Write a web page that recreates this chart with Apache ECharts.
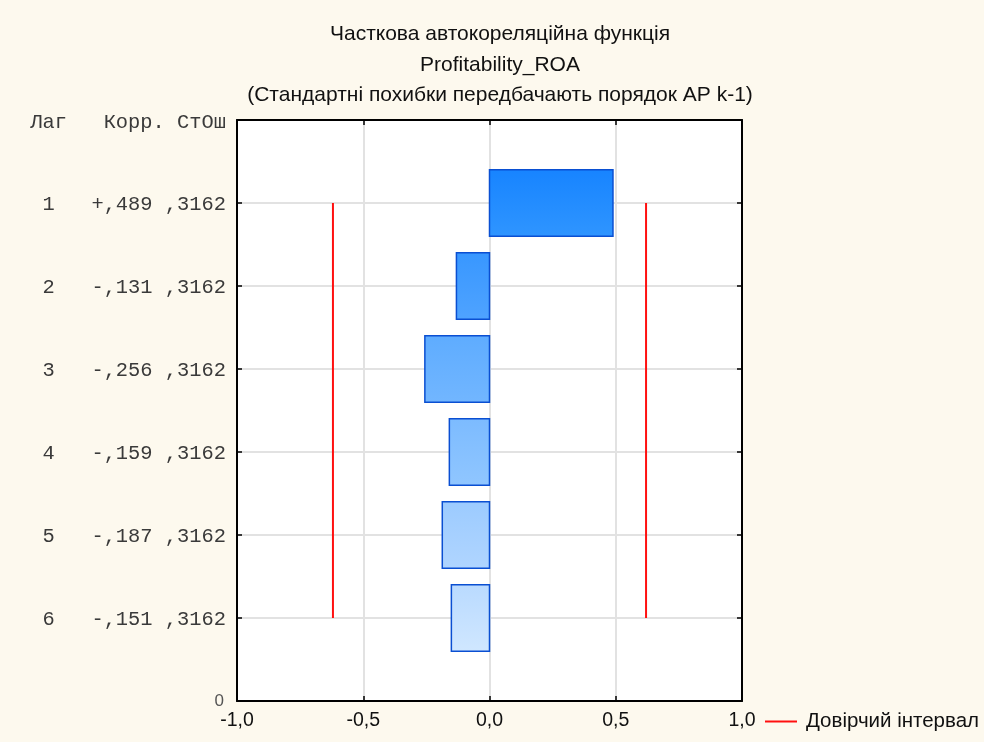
<!DOCTYPE html>
<html>
<head>
<meta charset="utf-8">
<script src="https://cdn.jsdelivr.net/npm/echarts@6/dist/echarts.min.js"></script>
<style>
  html, body { margin: 0; padding: 0; background: #fdf9ee; }
  #chart { width: 984px; height: 742px; }
</style>
</head>
<body>
<div id="chart"></div>
<script>
// Partial autocorrelation values per lag
const lags = [1, 2, 3, 4, 5, 6];
const corr = [0.489, -0.131, -0.256, -0.159, -0.187, -0.151];
const stdErr = [0.3162, 0.3162, 0.3162, 0.3162, 0.3162, 0.3162];
// Confidence band limits
const confLimits = [-0.62, 0.62];
const xTicks = [-1, -0.5, 0, 0.5, 1];

const titleLines = [
  'Часткова автокореляційна функція',
  'Profitability_ROA',
  '(Стандартні похибки передбачають порядок АР k-1)'
];
const legendName = 'Довірчий інтервал';

// Bar fill gradients, darker for early lags
const barTop = ['#1784ff', '#3897ff', '#5eacff', '#7cbbff', '#9ccbff', '#b9daff'];
const barBottom = ['#2f95ff', '#4fa3ff', '#72b6ff', '#90c6ff', '#b0d5ff', '#d0e7ff'];

const mono = 'Liberation Mono, Courier New, monospace';
const sans = 'Liberation Sans, Arial, sans-serif';

function fmtCorr(v) {
  const s = v >= 0 ? '+' : '-';
  return s + ',' + String(Math.round(Math.abs(v) * 1000)).padStart(3, '0');
}
function fmtSe(v) {
  return ',' + String(Math.round(v * 10000)).padStart(4, '0');
}
function fmtX(v) {
  return v.toFixed(1).replace('.', ',');
}

const maxLag = lags.length + 1;

const chart = echarts.init(document.getElementById('chart'), null, { renderer: 'canvas' });

const confSeries = confLimits.map(c => ({
  name: legendName,
  type: 'line',
  symbol: 'none',
  silent: true,
  lineStyle: { color: '#ff1010', width: 2 },
  itemStyle: { color: '#ff1010' },
  data: [[c, lags[0]], [c, lags[lags.length - 1]]],
  z: 3
}));

const frameLine = { show: true, onZero: false, lineStyle: { color: '#000', width: 2 } };
const innerTick = { show: true, inside: true, length: 5, lineStyle: { color: '#000', width: 1.5 } };

chart.setOption({
  backgroundColor: '#fdf9ee',
  animation: false,
  title: {
    text: titleLines.join('\n'),
    left: 500,
    top: 19,
    textAlign: 'center',
    padding: 0,
    textStyle: {
      fontFamily: sans,
      fontSize: 21,
      fontWeight: 'normal',
      color: '#111',
      lineHeight: 30.5
    }
  },
  legend: {
    show: true,
    left: 765,
    top: 711,
    padding: 0,
    itemWidth: 32,
    itemHeight: 2,
    icon: 'rect',
    data: [legendName],
    textStyle: { fontFamily: sans, fontSize: 20.5, color: '#111', padding: [0, 0, 0, 4] }
  },
  grid: {
    left: 237,
    right: 242,
    top: 120,
    bottom: 41,
    outerBoundsMode: 'none',
    show: true,
    backgroundColor: '#ffffff',
    borderWidth: 0
  },
  xAxis: [
    {
      type: 'value',
      min: xTicks[0],
      max: xTicks[xTicks.length - 1],
      interval: 0.5,
      position: 'bottom',
      axisLine: frameLine,
      axisTick: innerTick,
      axisLabel: {
        formatter: fmtX,
        margin: 10,
        fontFamily: sans,
        fontSize: 19.5,
        color: '#111'
      },
      splitLine: { show: true, lineStyle: { color: '#e2e2e2', width: 2 } }
    },
    {
      type: 'value',
      min: xTicks[0],
      max: xTicks[xTicks.length - 1],
      interval: 0.5,
      position: 'top',
      axisLine: frameLine,
      axisTick: innerTick,
      axisLabel: { show: false },
      splitLine: { show: false }
    }
  ],
  yAxis: [
    {
      type: 'value',
      min: 0,
      max: maxLag,
      interval: 1,
      inverse: true,
      position: 'left',
      axisLine: frameLine,
      axisTick: innerTick,
      axisLabel: {
        margin: 11,
        align: 'right',
        formatter: function (v) {
          if (v === 0) return '{h|Лаг   Корр. СтОш}';
          if (v === maxLag) return '{z|0}';
          const i = v - 1;
          return '{m|' + lags[i] + '   ' + fmtCorr(corr[i]) + ' ' + fmtSe(stdErr[i]) + '}';
        },
        rich: {
          h: { fontFamily: mono, fontSize: 20.4, color: '#3a3a3a', padding: [6, 0, 0, 0] },
          m: { fontFamily: mono, fontSize: 20.4, color: '#3a3a3a', padding: [3, 0, 0, 0] },
          z: { fontFamily: sans, fontSize: 17, color: '#555', padding: [0, 2, 0, 0] }
        }
      },
      splitLine: { show: true, lineStyle: { color: '#e2e2e2', width: 2 } }
    },
    {
      type: 'value',
      min: 0,
      max: maxLag,
      interval: 1,
      inverse: true,
      position: 'right',
      axisLine: frameLine,
      axisTick: innerTick,
      axisLabel: { show: false },
      splitLine: { show: false }
    }
  ],
  series: [
    {
      name: 'PACF',
      type: 'custom',
      xAxisIndex: 0,
      yAxisIndex: 0,
      encode: { x: 0, y: 1 },
      data: lags.map((l, i) => [corr[i], l]),
      z: 4,
      renderItem: function (params, api) {
        const v = api.value(0);
        const lag = api.value(1);
        const i = params.dataIndex;
        const p0 = api.coord([0, lag]);
        const p1 = api.coord([v, lag]);
        const h = api.size([0, 1])[1] * 0.8;
        return {
          type: 'rect',
          shape: {
            x: Math.min(p0[0], p1[0]),
            y: p0[1] - h / 2,
            width: Math.abs(p1[0] - p0[0]),
            height: h
          },
          style: {
            fill: new echarts.graphic.LinearGradient(0, 0, 0, 1, [
              { offset: 0, color: barTop[i] },
              { offset: 1, color: barBottom[i] }
            ]),
            stroke: '#0a4fd2',
            lineWidth: 1.5
          }
        };
      }
    }
  ].concat(confSeries)
});
</script>
</body>
</html>
